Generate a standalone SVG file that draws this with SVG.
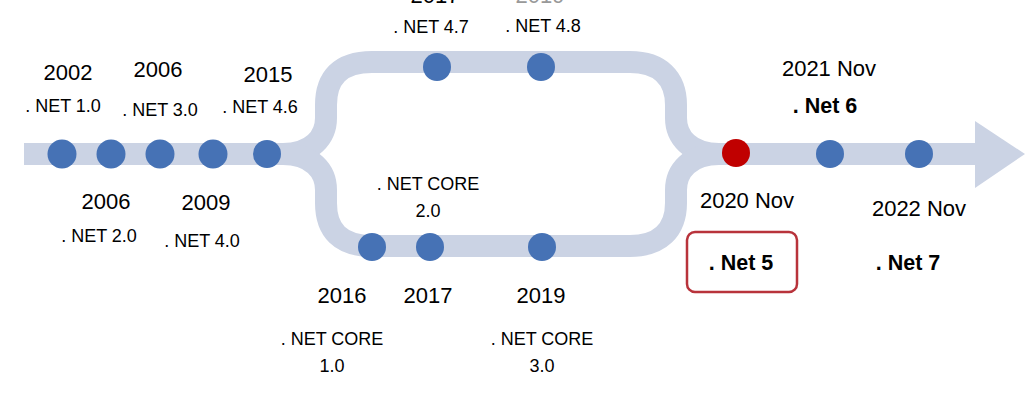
<svg xmlns="http://www.w3.org/2000/svg" width="1035" height="401" viewBox="0 0 1035 401">
<style>
.track{fill:none;stroke:#CBD3E4;stroke-width:22;stroke-linejoin:round}
.dot{fill:#4672B5}
.red{fill:#C00000}
.yr{font-family:"Liberation Sans",Arial,sans-serif;font-size:22px;fill:#000;text-anchor:middle}
.lb{font-family:"Liberation Sans",Arial,sans-serif;font-size:18px;fill:#000;text-anchor:middle}
.bd{font-family:"Liberation Sans",Arial,sans-serif;font-size:21.5px;font-weight:bold;fill:#000;text-anchor:middle}
</style>
<rect width="1035" height="401" fill="#FFFFFF"/>
<g id="connectors">
<path class="track" d="M24 154 L285 154"/>
<path class="track" d="M716 154 L975 154"/>
<path class="track" d="M270 154 L283 154 C312 154 326 137 326 118 L326 105 C326 78 340 62 372 62 L630 62 C660 62 676 78 676 105 L676 118 C676 137 690 154 719 154"/>
<path class="track" d="M270 154 L283 154 C312 154 326 171 326 190 L326 203 C326 230 340 246 372 246 L630 246 C660 246 676 230 676 203 L676 190 C676 171 690 154 719 154"/>
<polygon points="975,121 1025,154 975,188" fill="#CBD3E4"/>
</g>
<g id="n2002"><circle class="dot" cx="62" cy="154" r="14.5"/><text class="yr" x="68" y="80">2002</text><text class="lb" x="63" y="112">. NET 1.0</text></g>
<g id="n2006a"><circle class="dot" cx="111" cy="154" r="14.5"/><text class="yr" x="106" y="209">2006</text><text class="lb" x="99" y="242">. NET 2.0</text></g>
<g id="n2006b"><circle class="dot" cx="160" cy="154" r="14.5"/><text class="yr" x="158" y="77">2006</text><text class="lb" x="160" y="116">. NET 3.0</text></g>
<g id="n2009"><circle class="dot" cx="213" cy="154" r="14.5"/><text class="yr" x="206" y="210">2009</text><text class="lb" x="202" y="247">. NET 4.0</text></g>
<g id="n2015"><circle class="dot" cx="267" cy="154" r="14"/><text class="yr" x="268" y="82">2015</text><text class="lb" x="260" y="113">. NET 4.6</text></g>
<g id="n47"><circle class="dot" cx="437" cy="67" r="14"/><text class="yr" x="435" y="3">2017</text><text class="lb" x="431" y="33">. NET 4.7</text></g>
<g id="n48"><circle class="dot" cx="541" cy="67" r="14"/><text class="yr" x="540" y="3" style="fill:#999">2019</text><text class="lb" x="543" y="32">. NET 4.8</text></g>
<g id="core1"><circle class="dot" cx="372" cy="247" r="14"/><text class="yr" x="342" y="303">2016</text><text class="lb" x="332" y="345">. NET CORE</text><text class="lb" x="332" y="372">1.0</text></g>
<g id="core2"><circle class="dot" cx="430" cy="247" r="14"/><text class="yr" x="428" y="303">2017</text><text class="lb" x="428" y="190">. NET CORE</text><text class="lb" x="428" y="217">2.0</text></g>
<g id="core3"><circle class="dot" cx="542" cy="247" r="14"/><text class="yr" x="541" y="303">2019</text><text class="lb" x="542" y="345">. NET CORE</text><text class="lb" x="542" y="372">3.0</text></g>
<g id="net5"><circle class="red" cx="736" cy="153" r="14"/><text class="yr" x="747" y="208">2020 Nov</text><rect x="687" y="232" width="110" height="60" rx="8" fill="#FFFFFF" stroke="#B8333B" stroke-width="2.5"/><text class="bd" x="741" y="270">. Net 5</text></g>
<g id="net6"><circle class="dot" cx="830" cy="154" r="14"/><text class="yr" x="829" y="76">2021 Nov</text><text class="bd" x="825" y="113">. Net 6</text></g>
<g id="net7"><circle class="dot" cx="919" cy="154" r="14"/><text class="yr" x="919" y="216">2022 Nov</text><text class="bd" x="908" y="270">. Net 7</text></g>
</svg>
